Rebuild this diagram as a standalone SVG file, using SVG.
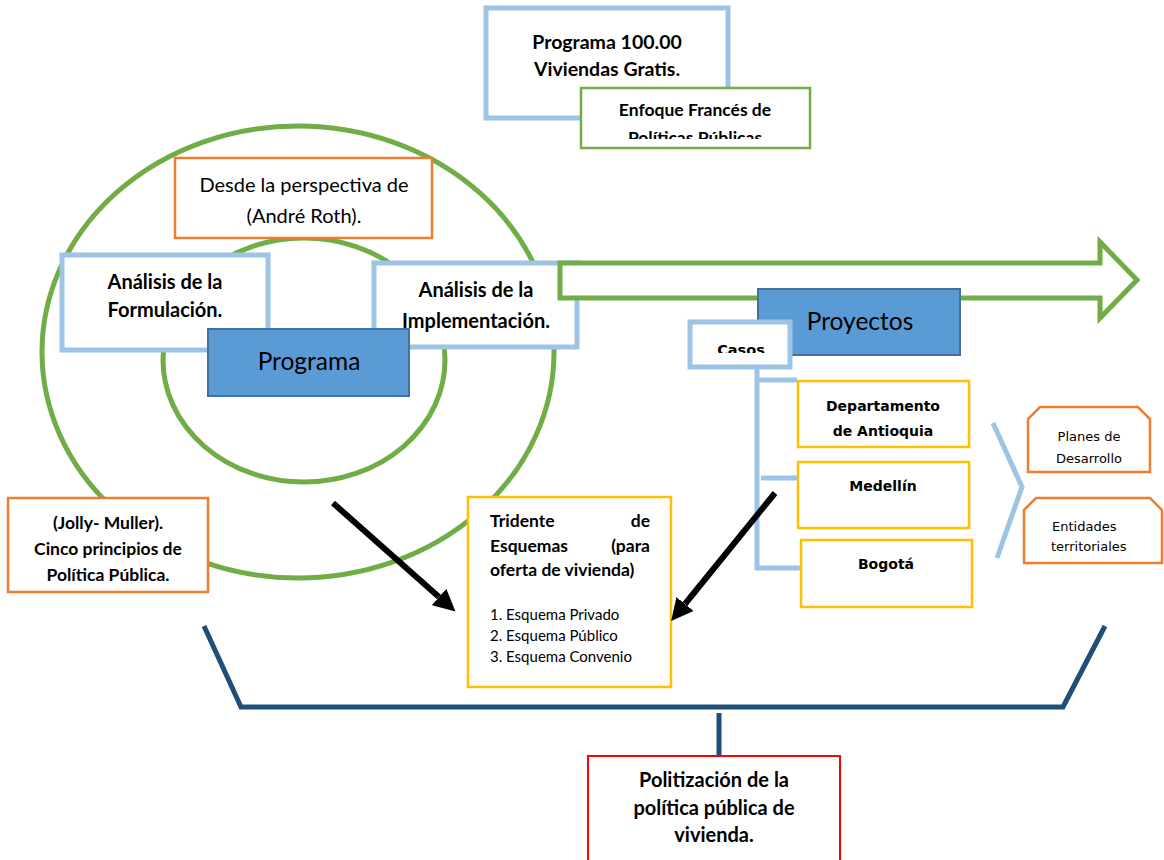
<svg xmlns="http://www.w3.org/2000/svg" width="1164" height="860" viewBox="0 0 1164 860">
<style>
.lb{fill:#fff;stroke:#9DC3E6;stroke-width:5}
.gr{fill:#fff;stroke:#70AD47;stroke-width:2.5}
.or{fill:#fff;stroke:#ED7D31;stroke-width:2.5}
.ye{fill:#fff;stroke:#FFC000;stroke-width:2.5}
.bl{fill:#5B9BD5;stroke:#41719C;stroke-width:2}
.rd{fill:#fff;stroke:#FF0000;stroke-width:2}
.t{font-family:Lato,"Open Sans","Liberation Sans",sans-serif;fill:#000}
.v{font-family:"DejaVu Sans",Verdana,sans-serif;fill:#000}
.b{font-weight:bold}
.c{text-anchor:middle}
.circ{fill:none;stroke:#70AD47;stroke-width:5}
.lbl{fill:none;stroke:#9DC3E6;stroke-width:5}
.dk{fill:none;stroke:#1F4E79;stroke-width:5}
.ar{stroke:#000;stroke-width:6;fill:none}
</style>
<defs>
<marker id="ah" viewBox="0 0 10 10" refX="0" refY="5" markerWidth="22" markerHeight="22" markerUnits="userSpaceOnUse" orient="auto">
<path d="M0,0 L10,5 L0,10 z" fill="#000"/>
</marker>
<clipPath id="clipEnf"><rect x="583" y="90" width="225" height="49"/></clipPath>
<clipPath id="clipCasos"><rect x="692" y="324" width="96" height="29"/></clipPath>
</defs>
<rect width="1164" height="860" fill="#fff"/>

<g id="circles">
<ellipse class="circ" cx="298" cy="352" rx="256" ry="226"/>
<ellipse class="circ" cx="304" cy="360" rx="141" ry="122"/>
</g>

<g id="programa-100">
<rect class="lb" x="486" y="8" width="242" height="110"/>
<text class="t b c" x="607" y="49" font-size="19.5">Programa 100.00</text>
<text class="t b c" x="607" y="76" font-size="19.5">Viviendas Gratis.</text>
</g>
<g id="enfoque">
<rect class="gr" x="581" y="88" width="229" height="60"/>
<g clip-path="url(#clipEnf)">
<text class="t b c" x="695" y="116" font-size="17.5">Enfoque Francés de</text>
<text class="t b c" x="695" y="144" font-size="17.5">Políticas Públicas</text>
</g>
</g>

<g id="desde">
<rect class="or" x="175" y="158" width="257" height="80"/>
<text class="t c" x="304" y="192" font-size="20">Desde la perspectiva de</text>
<text class="t c" x="304" y="223" font-size="20">(André Roth).</text>
</g>

<g id="formulacion">
<rect class="lb" x="62" y="255" width="206" height="95"/>
<text class="t b c" x="165" y="289" font-size="20">Análisis de la</text>
<text class="t b c" x="165" y="317" font-size="20">Formulación.</text>
</g>

<g id="implementacion">
<rect class="lb" x="374" y="263" width="203" height="84"/>
<text class="t b c" x="476" y="297" font-size="20">Análisis de la</text>
<text class="t b c" x="476" y="328" font-size="20">Implementación.</text>
</g>

<g id="programa">
<rect class="bl" x="208" y="329" width="201" height="67"/>
<text class="t c" x="309" y="370" font-size="24.5">Programa</text>
</g>

<g id="block-arrow">
<path d="M560,263 L1100,263 L1100,242 L1137,280 L1100,318 L1100,298 L560,298 Z" fill="#fff" stroke="#70AD47" stroke-width="5"/>
</g>

<g id="proyectos">
<rect class="bl" x="758" y="289" width="202" height="66"/>
<text class="t c" x="860" y="330" font-size="24.5">Proyectos</text>
</g>

<g id="casos">
<rect class="lb" x="690" y="322" width="100" height="45"/>
<g clip-path="url(#clipCasos)">
<text class="v b c" x="741" y="355" font-size="14.5">Casos</text>
</g>
</g>

<g id="antioquia">
<rect class="ye" x="798" y="381" width="171" height="66"/>
<text class="v b c" x="883" y="411" font-size="14">Departamento</text>
<text class="v b c" x="883" y="436" font-size="14">de Antioquia</text>
</g>
<g id="medellin">
<rect class="ye" x="798" y="462" width="171" height="66"/>
<text class="v b c" x="883" y="491" font-size="14">Medellín</text>
</g>
<g id="bogota">
<rect class="ye" x="801" y="540" width="171" height="67"/>
<text class="v b c" x="886" y="569" font-size="14">Bogotá</text>
</g>

<g id="planes">
<path class="or" d="M1040,407 L1138,407 L1150,419 L1150,472 L1028,472 L1028,419 Z"/>
<text class="v c" x="1089" y="441" font-size="13">Planes de</text>
<text class="v c" x="1089" y="463" font-size="13">Desarrollo</text>
</g>
<g id="entidades">
<path class="or" d="M1036,498 L1150,498 L1162,510 L1162,563 L1024,563 L1024,510 Z"/>
<text class="v" x="1052" y="531" font-size="13">Entidades</text>
<text class="v" x="1051" y="551" font-size="13">territoriales</text>
</g>

<g id="jolly">
<rect class="or" x="8" y="498" width="200" height="94"/>
<text class="t b c" x="108" y="529" font-size="17.5">(Jolly- Muller).</text>
<text class="t b c" x="108" y="555" font-size="17.5">Cinco principios de</text>
<text class="t b c" x="108" y="581" font-size="17.5">Política Pública.</text>
</g>

<g id="tridente">
<rect class="ye" x="468" y="497" width="203" height="190"/>
<text class="t b" x="490" y="527" font-size="17.5">Tridente</text>
<text class="t b" x="650" y="527" font-size="17.5" text-anchor="end">de</text>
<text class="t b" x="490" y="552" font-size="17.5">Esquemas</text>
<text class="t b" x="650" y="552" font-size="17.5" text-anchor="end">(para</text>
<text class="t b" x="490" y="576" font-size="17.5">oferta de vivienda)</text>
<text class="t" x="490" y="620" font-size="15">1. Esquema Privado</text>
<text class="t" x="490" y="641" font-size="15">2. Esquema Público</text>
<text class="t" x="490" y="662" font-size="15">3. Esquema Convenio</text>
</g>

<g id="politizacion">
<rect class="rd" x="588" y="756" width="252" height="110"/>
<text class="t b c" x="714" y="787" font-size="20">Politización de la</text>
<text class="t b c" x="714" y="815" font-size="20">política pública de</text>
<text class="t b c" x="714" y="842" font-size="20">vivienda.</text>
</g>

<g id="connectors">
<path class="lbl" d="M757,367 L757,568 L800,568 M757,380 L797,380 M761,478 L797,478"/>
<polyline class="lbl" points="993,423 1022,487 997,558"/>
<polyline class="dk" points="204,626 241,707 1063,707 1105,626"/>
<line class="dk" x1="719" y1="713" x2="719" y2="755"/>
<line class="ar" x1="333" y1="503" x2="439" y2="597" marker-end="url(#ah)"/>
<line class="ar" x1="775" y1="493" x2="685" y2="604" marker-end="url(#ah)"/>
</g>
</svg>
